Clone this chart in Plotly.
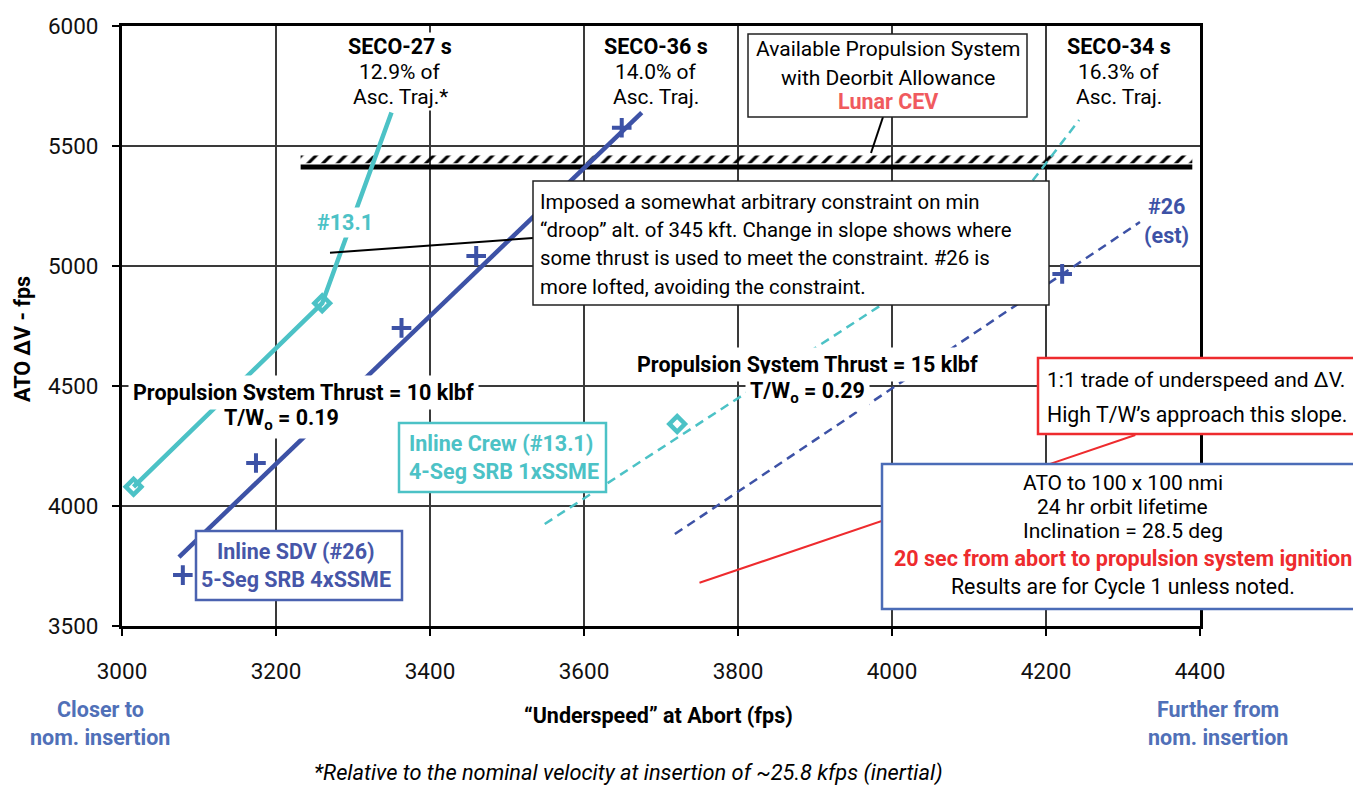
import plotly.graph_objects as go

# ---------------- data ----------------
x_range = [3000, 4400]
y_range = [3500, 6000]
x_ticks = [3000, 3200, 3400, 3600, 3800, 4000, 4200, 4400]
y_ticks = [3500, 4000, 4500, 5000, 5500, 6000]

# Inline Crew (#13.1), 10 klbf
crew10_x = [3015, 3260, 3350]
crew10_dv = [4080, 4845, 5640]
crew10_pts_x = [3015, 3260]
crew10_pts_dv = [4080, 4845]

# Inline SDV (#26), 10 klbf
sdv10_x = [3074, 3675]
sdv10_dv = [3787, 5639]
sdv10_pts_x = [3079, 3174, 3363, 3460, 3649]
sdv10_pts_dv = [3712, 4179, 4742, 5042, 5576]

# Inline Crew (#13.1), 15 klbf
crew15_x = [3549, 4131, 4243]
crew15_dv = [3925, 5140, 5608]
crew15_pts_x = [3721]
crew15_pts_dv = [4342]

# Inline SDV (#26), 15 klbf (est)
sdv15_x = [3718, 4322]
sdv15_dv = [3883, 5183]
sdv15_pts_x = [4221]
sdv15_pts_dv = [4967]

# 1:1 trade reference line
slope_x = [3750, 4316]
slope_dv = [3680, 4296]

# available propulsion system (Lunar CEV) with deorbit allowance
constraint_x = [3232, 4390]
constraint_dv = 5413

# ---------------- style ----------------
FONT = "Roboto, Liberation Sans, sans-serif"
CYAN = "#4CC2C6"
BLUE = "#3D52A6"
BLUE_LT = "#5070B8"
RED = "#EE2B2E"
LUNAR = "#F05A5E"
FS_REG = 21
FS_BOLD = 21.5

W_FIG, H_FIG = 1353, 787
L, T, PW, PH = 122, 26, 1078, 600


def px(xp):
    return (xp - L) / PW


def py(yp):
    return (T + PH - yp) / PH


annotations = []
shapes = []


def label(xp, yp, text, size=None, color="black", xanchor="center", bg=None, angle=0, pad=2):
    if size is None:
        size = FS_BOLD if "<b>" in text else FS_REG
    a = dict(x=px(xp), y=py(yp), xref="paper", yref="paper", text=text,
             showarrow=False, xanchor=xanchor, yanchor="middle",
             font=dict(family=FONT, size=size, color=color), textangle=angle)
    if bg:
        a.update(bgcolor=bg, borderpad=pad)
    annotations.append(a)


def box(x0, y0, x1, y1, color, width):
    shapes.append(dict(type="rect", xref="paper", yref="paper",
                       x0=px(x0), x1=px(x1), y0=py(y1), y1=py(y0),
                       line=dict(color=color, width=width), fillcolor="white", layer="above"))


def connector(x0, y0, x1, y1, color="black", width=2):
    shapes.append(dict(type="line", xref="paper", yref="paper",
                       x0=px(x0), y0=py(y0), x1=px(x1), y1=py(y1),
                       line=dict(color=color, width=width), layer="above"))


fig = go.Figure()

# hatch strip above the constraint line
hx0, hx1 = constraint_x
hy0, hy1 = constraint_dv + 15, constraint_dv + 47
fig.add_trace(go.Scatter(
    x=[hx0, hx1, hx1, hx0, hx0], y=[hy0, hy0, hy1, hy1, hy0],
    mode="lines", fill="toself", fillcolor="rgba(0,0,0,0)",
    fillpattern=dict(shape="/", size=10.4, solidity=0.3, fgcolor="black",
                     bgcolor="rgba(0,0,0,0)", fgopacity=1),
    line=dict(width=0, color="rgba(0,0,0,0)"), hoverinfo="skip"))
fig.add_trace(go.Scatter(x=constraint_x, y=[constraint_dv] * 2, mode="lines",
                         line=dict(color="black", width=5), hoverinfo="skip"))

# 1:1 slope line
fig.add_trace(go.Scatter(x=slope_x, y=slope_dv, mode="lines",
                         line=dict(color=RED, width=2)))

# 15 klbf dashed
fig.add_trace(go.Scatter(x=crew15_x, y=crew15_dv, mode="lines",
                         line=dict(color=CYAN, width=2.5, dash="9px,6px")))
fig.add_trace(go.Scatter(x=sdv15_x, y=sdv15_dv, mode="lines",
                         line=dict(color=BLUE, width=2.5, dash="9px,6px")))

# 10 klbf solid
fig.add_trace(go.Scatter(x=crew10_x, y=crew10_dv, mode="lines",
                         line=dict(color=CYAN, width=4.5)))
fig.add_trace(go.Scatter(x=sdv10_x, y=sdv10_dv, mode="lines",
                         line=dict(color=BLUE, width=4.5)))

# markers
diamond = dict(symbol="diamond-open", size=12, color=CYAN, line=dict(width=4.5, color=CYAN))
plus = dict(symbol="cross-thin", size=14, color=BLUE, line=dict(width=4, color=BLUE))
fig.add_trace(go.Scatter(x=crew10_pts_x, y=crew10_pts_dv, mode="markers", marker=diamond))
fig.add_trace(go.Scatter(x=crew15_pts_x, y=crew15_pts_dv, mode="markers", marker=diamond))
fig.add_trace(go.Scatter(x=sdv10_pts_x, y=sdv10_pts_dv, mode="markers", marker=plus))
fig.add_trace(go.Scatter(x=sdv15_pts_x, y=sdv15_pts_dv, mode="markers", marker=plus))

# ---------------- annotation boxes & connectors ----------------
connector(883, 117, 871, 153)
connector(330, 252.7, 533, 238)

box(748, 34, 1027, 117, "#222", 1.5)
box(533, 181, 1049, 305, "#222", 1.5)
box(1038, 358, 1365, 434, RED, 2.5)
box(882, 464, 1365, 609, "#4B6CB7", 2.5)
box(399, 423, 606, 492, CYAN, 2.5)
box(196, 531, 402, 600, "#4A62B0", 2.5)

# SECO labels
for cx, l1, l2, l3 in [(400, "SECO-27 s", "12.9% of", "Asc. Traj.*"),
                       (656, "SECO-36 s", "14.0% of", "Asc. Traj."),
                       (1119, "SECO-34 s", "16.3% of", "Asc. Traj.")]:
    label(cx, 46.7, "<b>" + l1 + "</b>", bg="white", pad=1)
    label(cx, 72, l2, bg="white", pad=1)
    label(cx, 97, l3, bg="white", pad=1)

# Available propulsion box text
label(888, 49, "Available Propulsion System")
label(888, 78, "with Deorbit Allowance")
label(888, 101, "<b>Lunar CEV</b>", color=LUNAR)

# Imposed constraint box text
for yy, t in [(201.7, "Imposed a somewhat arbitrary constraint on min"),
              (230, "\u201cdroop\u201d alt. of 345 kft. Change in slope shows where"),
              (258, "some thrust is used to meet the constraint. #26 is"),
              (286.7, "more lofted, avoiding the constraint.")]:
    label(538, yy, t, xanchor="left", size=20.4)

# curve tags
label(345, 222, "<b>#13.1</b>", color=CYAN, bg="white", pad=2)
label(1166, 207, "<b>#26</b>", color=BLUE, bg="white", pad=1)
label(1166, 235, "<b>(est)</b>", color=BLUE, bg="white", pad=1)

# thrust labels
label(303, 392, "<b>Propulsion System Thrust = 10 klbf</b>", bg="white", pad=4)
label(281.5, 419, "<b>T/W<sub>o</sub> = 0.19</b>", bg="white", pad=4)
label(807, 364, "<b>Propulsion System Thrust = 15 klbf</b>", bg="white", pad=4)
label(807.5, 392.7, "<b>T/W<sub>o</sub> = 0.29</b>", bg="white", pad=4)

# red box text
label(1045, 380, "1:1 trade of underspeed and \u0394V.", xanchor="left", size=21)
label(1045, 414, "High T/W\u2019s approach this slope.", xanchor="left", size=21.3)

# blue box text
label(1122.7, 483.3, "ATO to 100 x 100 nmi")
label(1122.7, 507, "24 hr orbit lifetime")
label(1122.7, 530.5, "Inclination = 28.5 deg")
label(1122.7, 558.7, "<b>20 sec from abort to propulsion system ignition</b>", color=RED)
label(1122.7, 586.2, "Results are for Cycle 1 unless noted.", size=21.3)

# legend-like boxes
label(407, 443.3, "<b>Inline Crew (#13.1)</b>", color=CYAN, xanchor="left")
label(407, 471.7, "<b>4-Seg SRB 1xSSME</b>", color=CYAN, xanchor="left")
label(296, 551.3, "<b>Inline SDV (#26)</b>", color="#4656A8")
label(296, 579.5, "<b>5-Seg SRB 4xSSME</b>", color="#4656A8")

# axis titles & bottom notes
label(22, 339, "<b>ATO \u0394V - fps</b>", angle=-90)
label(658, 715, "<b>\u201cUnderspeed\u201d at Abort (fps)</b>")
label(100, 709, "<b>Closer to</b>", color=BLUE_LT)
label(100, 737, "<b>nom. insertion</b>", color=BLUE_LT)
label(1218, 709, "<b>Further from</b>", color=BLUE_LT)
label(1218, 737, "<b>nom. insertion</b>", color=BLUE_LT)
label(628.5, 773, "<i>*Relative to the nominal velocity at insertion of ~25.8 kfps (inertial)</i>", size=21.8)

axis_common = dict(showgrid=True, gridcolor="#3a3a3a", gridwidth=1.5,
                   showline=True, linecolor="black", linewidth=3, mirror=True,
                   ticks="outside", ticklen=7, tickwidth=1.5, tickcolor="black",
                   zeroline=False, tickfont=dict(family=FONT, size=22.5, color="#111"))

fig.update_layout(
    width=W_FIG, height=H_FIG,
    margin=dict(l=L, r=W_FIG - L - PW, t=T, b=H_FIG - T - PH),
    paper_bgcolor="white", plot_bgcolor="white",
    showlegend=False,
    xaxis=dict(range=x_range, tickvals=x_ticks, ticklabelstandoff=16, **axis_common),
    yaxis=dict(range=y_range, tickvals=y_ticks, ticklabelstandoff=9, **axis_common),
    annotations=annotations, shapes=shapes,
    font=dict(family=FONT),
)

fig.write_html("out.html", config={"displayModeBar": False},
               post_script="document.body.style.margin='0px';document.body.style.overflow='hidden';")
